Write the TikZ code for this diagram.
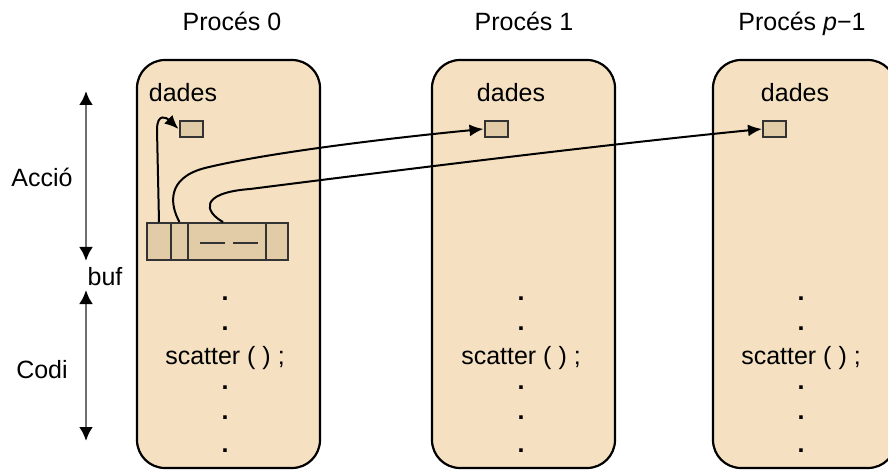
\documentclass[tikz,border=0pt]{standalone}
\usepackage{fontspec}
\setmainfont{Liberation Sans}
\usetikzlibrary{arrows.meta}
\definecolor{procfill}{HTML}{F5E1C1}
\definecolor{cellfill}{HTML}{E2CCA7}
\definecolor{celldraw}{HTML}{333333}
\definecolor{spanline}{HTML}{6E6E6E}
\tikzset{
  procbox/.style={draw=black, line width=2.2pt, fill=procfill, rounded corners=28pt,
    minimum width=183, minimum height=408, inner sep=0pt},
  cell/.style={draw=celldraw, line width=2pt, fill=cellfill, inner sep=0pt,
    minimum height=37},
  slot/.style={draw=celldraw, line width=2pt, fill=cellfill, inner sep=0pt,
    minimum width=23, minimum height=16},
  lbl/.style={font=\fontsize{25}{30}\selectfont, anchor=base, inner sep=0pt},
  dot/.style={font=\fontsize{25}{30}\selectfont\bfseries, inner sep=0pt},
  link/.style={draw=black, line width=2pt, -{Latex[length=14pt,width=12pt]}},
  span/.style={draw=spanline, line width=2.8pt,
    {Latex[length=14pt,width=14pt,color=black]}-{Latex[length=14pt,width=14pt,color=black]}},
}
\begin{document}
\begin{tikzpicture}[x=1pt, y=-1pt]
\useasboundingbox (0,0) rectangle (888,470);
\clip (0,0) rectangle (888,470);

% process columns
\node[procbox] (p0) at (228.5,264) {};
\node[procbox] (p1) at (523.5,264) {};
\node[procbox] (p2) at (804.5,264) {};

% titles
\node[lbl] (t0) at (232,31) {Procés 0};
\node[lbl] (t1) at (524,31) {Procés 1};
\node[lbl] (t2) at (802,31) {Procés \textit{p}−1};

% data labels and slots
\node[lbl] (l0) at (183,102) {dades};
\node[lbl] (l1) at (511,102) {dades};
\node[lbl] (l2) at (795,102) {dades};
\node[slot] (d0) at (191,129) {};
\node[slot] (d1) at (496,129) {};
\node[slot] (d2) at (774.5,129) {};

% send buffer
\node[cell, minimum width=24] (c1) at (159,241.5) {};
\node[cell, minimum width=17] (c2) at (179.5,241.5) {};
\node[cell, minimum width=78] (c3) at (227,241.5) {};
\node[cell, minimum width=22] (c4) at (277,241.5) {};
\draw[celldraw, line width=2pt] (200,243) -- (225,243) (233,243) -- (258,243);

% code lines
\foreach \cx/\nm in {225/0, 521/1, 801/2}{
  \node[dot] (da\nm) at (\cx,299) {.};
  \node[dot] (db\nm) at (\cx,329) {.};
  \node[lbl] (sc\nm) at (\cx,364) {scatter ( ) ;};
  \node[dot] (dc\nm) at (\cx,388) {.};
  \node[dot] (dd\nm) at (\cx,418) {.};
  \node[dot] (de\nm) at (\cx,451) {.};
}

% scatter transfers
\draw[link] (c1.north) -- (157,130) .. controls (157,112) and (167,118) .. (d0.west);
\draw[link] (c2.north) .. controls (170,205) and (166,178) .. (205,168)
  .. controls (270,152) and (400,137) .. (d1.west);
\draw[link] ([xshift=-4pt]c3.north) .. controls (205,212) and (198,193) .. (250,189)
  .. controls (400,170) and (600,145) .. (d2.west);

% side annotations
\coordinate (a1) at (86,91);
\coordinate (a2) at (86,261);
\coordinate (b1) at (86,290);
\coordinate (b2) at (86,441);
\draw[span] (a1) -- (a2);
\draw[span] (b1) -- (b2);
\node[lbl] (acc) at (42,187) {Acció};
\node[lbl] (buf) at (105,285) {buf};
\node[lbl] (cod) at (42,378) {Codi};
\end{tikzpicture}
\end{document}
